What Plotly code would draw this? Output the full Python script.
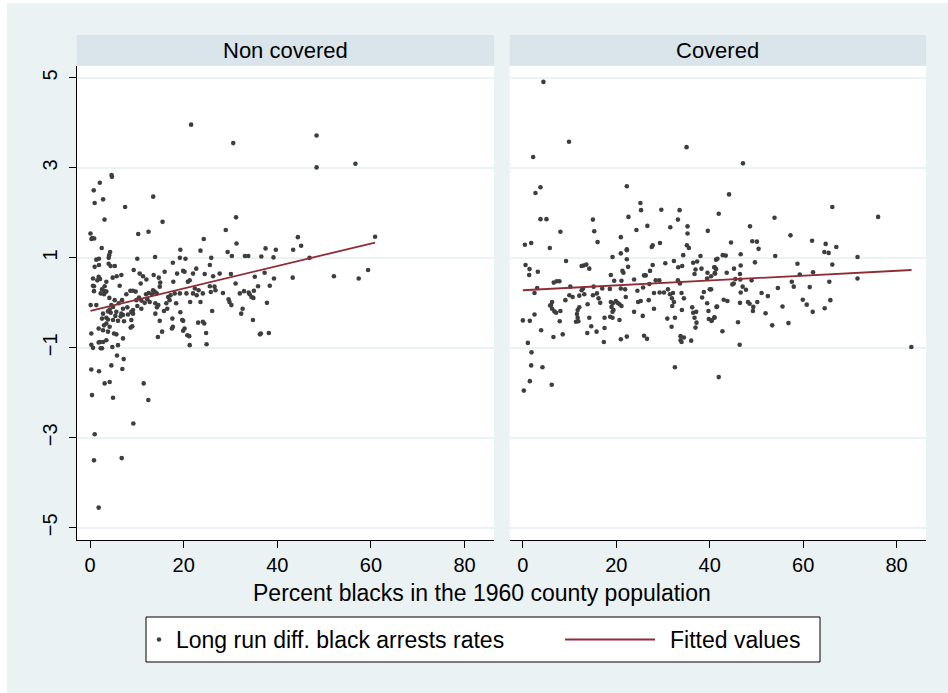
import plotly.graph_objects as go

# ---- Non covered counties: percent black 1960 (x) vs long run diff. in black arrest rates (y)
nc_x = [21.6, 30.6, 4.6, 4.7, 2.1, 0.8, 2.8, 13.5, 1.0, 7.5, 3.1, 31.2, 15.5, 29.0, 0.1, 10.3, 12.5,
        0.5, 0.9, 0.3, 24.3, 31.3, 2.5, 4.3, 4.1, 4.0, 19.3, 23.6, 29.4, 30.3, 37.5, 39.7, 33.1, 33.8,
        36.6, 39.2, 13.9, 19.2, 20.4, 25.9, 10.1, 1.9, 1.35,
        48.4, 48.4, 56.7, 44.4, 43.4, 45.1, 46.9, 60.9, 43.3, 52.1, 57.4, 59.4,
        1.92, 1.0, 4.4, 5.3, 3.99, 0.64, 1.85, 2.14, 1.57, 4.84, 5.7, 6.7, 3.49, 3.13, 0.64, 0.85, 6.34,
        0.85, 2.56, 3.13, 2.28, 2.99, 3.49, 4.13, 0.14, 1.35, 5.27, 6.13, 6.84, 7.76, 8.62, 9.19, 9.76,
        7.05, 6.7, 5.63, 5.41, 4.42, 4.2, 3.85, 4.92, 4.56, 2.78, 3.49, 2.56, 3.85, 4.92, 5.98, 7.27,
        7.05, 6.55, 3.49, 2.99, 4.2, 1.85, 2.78, 3.85, 5.13, 5.63, 0.28, 2.07, 1.85, 2.78, 3.49, 0.28,
        0.64, 2.28, 2.56, 4.77, 5.98, 7.05, 7.98, 8.83, 8.12, 9.19, 8.83, 8.69, 9.04, 9.19, 10.11, 10.97,
        9.9, 10.47, 10.97, 11.68, 12.25, 12.75, 11.97, 12.55, 13.25, 13.82, 13.46, 14.25, 9.33, 10.83,
        10.61, 12.04, 11.33, 13.6, 14.7, 15.0, 15.95, 14.9, 13.96, 14.6, 14.3, 13.96, 14.9, 15.8, 15.4,
        14.5, 17.7, 16.3, 17.0, 16.7, 17.2, 18.1, 16.5, 17.8, 18.6, 19.9, 20.2, 17.6, 17.5, 17.7, 19.3,
        19.7, 20.2, 19.9, 21.2, 18.4, 19.2, 20.6, 20.9, 21.3, 21.4, 22.0, 22.0, 22.4, 22.8, 23.2, 23.6,
        24.1, 24.5, 22.7, 23.1, 24.1, 24.4, 24.9, 24.8, 25.6, 25.6, 25.8, 26.1, 26.6, 26.3, 26.8, 27.7,
        28.4, 21.3, 19.9, 20.8, 29.6, 29.8, 30.2, 30.1, 31.1, 32.0, 32.3, 32.6, 32.9, 33.9, 34.1, 34.5,
        35.0, 34.9, 34.8, 35.2, 35.9, 36.3, 36.5, 37.3, 37.8, 38.2, 38.4, 39.3,
        5.77, 7.19, 0.28, 1.92, 4.56, 6.91, 3.13, 4.2, 11.47, 0.43, 4.92, 12.46,
        9.26, 1.0, 0.85, 6.77, 1.85]
nc_y = [3.96, 3.55, 2.84, 2.80, 2.67, 2.50, 2.30, 2.36, 2.22, 2.13, 1.85, 1.90, 1.80, 1.62, 1.54, 1.53, 1.58,
        1.44, 1.43, 1.42, 1.42, 1.32, 1.22, 1.13, 1.06, 1.00, 1.18, 1.16, 1.13, 1.04, 1.21, 1.18, 1.04, 1.04,
        1.03, 1.01, 1.02, 1.00, 0.98, 1.00, 0.98, 0.98, 0.96,
        3.72, 3.01, 3.09, 1.46, 1.18, 1.27, 1.00, 1.47, 0.56, 0.59, 0.54, 0.73,
        0.84, 0.80, 0.82, 0.82, 0.87, 0.54, 0.58, 0.53, 0.50, 0.56, 0.59, 0.62, 0.47, 0.37, 0.38, 0.37, 0.38,
        0.26, 0.30, 0.26, 0.21, 0.19, 0.25, 0.11, -0.05, -0.05, 0.06, -0.01, 0.06, 0.19, 0.27, 0.27, 0.25,
        -0.13, -0.24, -0.20, -0.29, -0.22, -0.15, -0.19, -0.09, -0.05, -0.24, -0.33, -0.35, -0.37, -0.38, -0.40, -0.41,
        -0.27, -0.30, -0.46, -0.50, -0.53, -0.57, -0.61, -0.64, -0.68, -0.70, -0.68, -0.87, -0.88, -0.87, -0.83, -0.93,
        -1.00, -1.01, -1.01, -0.98, -0.94, -0.79, -0.10, -0.20, -0.26, -0.24, -0.38, -0.55, -0.52, -0.16, -0.07, -0.13,
        0.06, 0.12, 0.05, 0.00, 0.08, 0.02, 0.19, 0.22, 0.19, 0.25, 0.28, 0.21, 0.73, 0.43,
        0.65, 0.52, 0.59, 0.62, 0.56, 0.45, 0.69, 0.36, -0.01, -0.05, -0.10, -0.24, -0.40, -0.18, -0.64,
        -0.76, 0.89, -0.01, 0.06, 0.13, 0.17, 0.21, -0.13, 0.47, 0.65, 0.71, 0.69, -0.35, -0.57, -0.53, -0.21,
        -0.38, -0.57, -0.62, -0.74, -0.01, 0.21, 0.21, 0.47, 0.50, 0.02, 0.65, 0.21, 0.32, 0.17, 0.28, 0.02,
        0.21, 0.64, 0.76, -0.44, -0.42, -0.46, -0.92, -0.67, 0.84, 0.37, 0.24, -0.18, 0.36, 0.59, 0.28, 0.65,
        0.22, -0.94, -0.40, -0.72, 0.08, 0.02, -0.05, 0.64, 0.43, 0.21, -0.24, -0.13, 0.26, 0.23, 0.19, 0.13,
        0.27, 0.11, -0.38, 0.58, 0.37, -0.70, -0.68, 0.67, 0.00, -0.67, 0.38, 0.54,
        -1.17, -1.25, -1.48, -1.52, -1.39, -1.47, -1.79, -1.76, -1.79, -2.05, -2.11, -2.16,
        -2.68, -2.92, -3.50, -3.45, -4.55]

# ---- Covered counties
cv_x = [4.40, 9.88, 2.20, 35.04, 3.77, 2.70, 22.25, 25.16, 25.30, 29.64, 33.55, 33.19, 3.77, 5.05, 14.99,
        22.6, 26.65, 31.56, 35.25, 39.59, 8.03, 15.28, 24.31, 35.25, 20.97, 0.43, 1.78, 5.76, 15.99, 27.79,
        27.58, 29.35, 35.11, 35.54, 22.25,
        0.57, 1.42, 1.35, 3.20, 9.24, 12.58, 13.01, 13.58, 14.22, 19.19, 20.97, 22.25, 22.25, 22.53,
        21.32, 21.53, 18.83, 19.55, 21.11, 23.81, 25.94, 26.3, 27.22, 27.79, 30.49, 32.34, 33.26, 34.11, 34.33,
        36.46, 36.96, 37.31, 38.02, 36.75, 38.24, 39.52, 39.45, 40.3, 41.01, 41.15, 41.36,
        6.61, 7.25, 7.82, 10.16, 3.06, 2.49, 15.14, 16.99, 18.62, 20.97, 21.89, 12.58, 12.87,
        15.85, 16.2, 16.56, 15.0, 13.15, 12.08, 10.66, 9.95, 9.10, 6.25, 6.04, 5.83, 6.25, 6.75, 7.11, 8.03,
        13.86, 12.08, 11.73, 11.58, 14.22, 11.73, 11.37, 11.87, 18.83, 19.26, 18.98, 19.4, 19.19, 19.9, 20.26,
        20.68, 21.11, 22.03, 17.48, 18.69, 19.19, 20.68, 24.66, 25.23, 23.81, 25.66, 24.52, 25.73, 27.08, 28.07,
        29.21, 28.43, 29.28, 30.21, 31.06, 31.49, 32.13, 31.91, 32.34, 31.98, 26.94, 28.07, 30.92, 31.84, 32.55,
        33.19, 33.62, 33.97, 34.47, 34.04, 36.25, 37.1, 37.17, 36.75, 36.96, 36.46, 38.38, 39.45, 39.73, 39.8,
        40.37, 41.01, 41.44, 40.01, 38.74, 33.76, 34.47, 33.76, 33.97, 36.03, 0.0, 1.49, 2.49, 3.91, 6.54,
        8.53, 7.89, 13.79, 15.78, 14.64, 17.48, 17.34, 20.97, 22.25, 25.94, 26.58, 1.07, 1.85, 1.78, 4.19,
        1.49, 0.21, 6.18, 32.55,
        47.12, 44.14, 41.93, 66.24, 76.05, 53.87, 48.62, 57.29, 44.56, 49.11, 50.11, 61.91, 64.82, 67.1, 50.46,
        42.79, 43.43, 41.65, 46.63, 54.02, 64.54, 65.46, 71.64, 49.68, 58.78, 66.24, 46.63, 41.01, 41.37,
        41.08, 43.64, 45.2, 46.48, 46.55, 45.49, 45.14, 44.85, 48.97, 59.28, 62.12, 71.64, 57.57, 57.99,
        65.6, 61.41, 54.59, 47.05, 47.76, 46.63, 51.1, 52.45, 40.3, 43.0, 43.78, 46.48, 48.19, 48.54, 49.33,
        49.25, 50.18, 51.96, 41.58, 41.01, 40.44, 46.06, 42.72, 46.41, 55.58, 53.38, 56.86, 59.92, 60.77,
        62.05, 64.61, 65.82, 41.93, 83.16]
cv_y = [4.91, 3.58, 3.24, 3.46, 2.57, 2.44, 2.59, 2.22, 2.06, 2.07, 2.06, 1.85, 1.86, 1.86, 1.85,
        1.91, 1.71, 1.68, 1.70, 1.60, 1.58, 1.59, 1.62, 1.54, 1.46, 1.29, 1.33, 1.22, 1.35, 1.28,
        1.24, 1.33, 1.28, 1.22, 1.19,
        0.84, 0.75, 0.62, 0.69, 0.93, 0.82, 0.83, 0.85, 0.76, 1.02, 1.10, 1.17, 0.97, 0.80,
        0.71, 0.67, 0.62, 0.49, 0.49, 0.52, 0.61, 0.61, 0.71, 0.84, 0.88, 0.93, 0.79, 0.82, 1.06,
        0.89, 0.74, 0.92, 1.04, 0.64, 0.76, 0.67, 0.54, 0.59, 0.79, 0.65, 0.96,
        0.45, 0.48, 0.48, 0.36, 0.33, 0.22, 0.36, 0.32, 0.31, 0.32, 0.30, 0.28, 0.32,
        0.21, 0.10, 0.00, 0.17, 0.19, 0.16, 0.13, 0.17, 0.06, 0.02, -0.05, -0.06, -0.13, -0.19, -0.22, -0.18,
        -0.03, -0.10, -0.16, -0.25, -0.33, -0.33, -0.42, -0.41, 0.02, -0.01, -0.09, -0.16, -0.20, 0.04, 0.00,
        -0.03, -0.07, 0.13, -0.33, -0.31, -0.33, -0.38, 0.02, 0.04, -0.20, -0.29, 0.27, 0.34, 0.42, 0.22,
        0.50, 0.50, 0.23, 0.23, 0.30, 0.19, 0.22, 0.10, 0.02, -0.07, 0.06, -0.13, -0.35, -0.53, -0.33,
        0.50, 0.43, 0.22, 0.10, -0.16, -0.10, -0.20, -0.44, -0.33, -0.55, -0.22, 0.12, -0.01, -0.18, -0.36,
        -0.40, -0.33, -0.09, 0.30, 0.24, -0.74, -0.77, -0.83, -0.87, -0.84, -0.39, -0.40, -0.26, -0.61, -0.76,
        -0.70, -0.41, -0.67, -0.64, -0.52, -0.56, -0.87, -0.81, -0.75, -0.73, -0.80, -0.89, -1.10, -1.39, -1.43,
        -1.74, -1.95, -1.82, -1.43,
        3.10, 2.41, 1.98, 2.13, 1.91, 1.89, 1.70, 1.50, 1.34, 1.37, 1.36, 1.38, 1.31, 1.24, 1.20,
        1.06, 1.05, 0.98, 1.08, 1.04, 1.13, 1.11, 1.02, 0.90, 0.87, 0.85, 0.83, 0.79, 0.75,
        0.66, 0.67, 0.76, 0.64, 0.52, 0.53, 0.43, 0.41, 0.50, 0.63, 0.68, 0.54, 0.47, 0.36,
        0.47, 0.35, 0.33, 0.36, 0.29, 0.23, 0.22, 0.15, 0.30, 0.07, 0.04, 0.00, 0.02, -0.02, -0.09,
        -0.18, 0.02, -0.23, -0.08, -0.32, -0.39, -0.43, -0.63, -0.93, -0.08, -0.50, -0.45, 0.07, -0.04,
        -0.20, -0.12, 0.06, -1.65, -0.98]

# ---- Fitted values (linear fit endpoints per panel)
fit_nc_x = [0.1, 60.9]
fit_nc_y = [-0.18, 1.34]
fit_cv_x = [0.0, 83.2]
fit_cv_y = [0.28, 0.73]

panel_titles = ["Non covered", "Covered"]
x_ticks = [0, 20, 40, 60, 80]
y_ticks = [-5, -3, -1, 1, 3, 5]
legend_labels = ["Long run diff. black arrests rates", "Fitted values"]

W, H = 948, 693
BG = "#EAF2F3"
STRIP = "#D9E5EA"
DOT = "#3E3E3E"
FIT = "#8F2D36"
FONT = "Liberation Sans, Arial, sans-serif"


def fx(p):
    return p / W


def fy(p):
    return 1 - p / H


left_dom = [fx(76.8), fx(494)]
right_dom = [fx(509.7), fx(926)]
y_dom = [fy(540), fy(65.7)]

fig = go.Figure()
fig.add_trace(go.Scatter(x=nc_x, y=nc_y, mode="markers", name=legend_labels[0],
                         marker=dict(size=4.6, color=DOT), xaxis="x", yaxis="y"))
fig.add_trace(go.Scatter(x=fit_nc_x, y=fit_nc_y, mode="lines", name=legend_labels[1],
                         line=dict(color=FIT, width=1.8), xaxis="x", yaxis="y"))
fig.add_trace(go.Scatter(x=cv_x, y=cv_y, mode="markers", name=legend_labels[0],
                         marker=dict(size=4.6, color=DOT), xaxis="x2", yaxis="y2"))
fig.add_trace(go.Scatter(x=fit_cv_x, y=fit_cv_y, mode="lines", name=legend_labels[1],
                         line=dict(color=FIT, width=1.8), xaxis="x2", yaxis="y2"))

xcommon = dict(range=[-2.82, 86.3], tickvals=x_ticks, ticks="outside", ticklen=7, tickwidth=1,
               tickcolor="black", showline=True, linecolor="black", linewidth=1, showgrid=False,
               zeroline=False, tickfont=dict(size=20, color="black", family=FONT))
ycommon = dict(range=[-5.27, 5.27], tickvals=y_ticks, showgrid=True, gridcolor=BG, gridwidth=1.5,
               zeroline=False, domain=y_dom)

fig.update_layout(
    width=W, height=H, margin=dict(l=0, r=0, t=0, b=0),
    paper_bgcolor=BG, plot_bgcolor="white",
    font=dict(family=FONT, color="black"),
    xaxis=dict(domain=left_dom, anchor="y", **xcommon),
    xaxis2=dict(domain=right_dom, anchor="y2", **xcommon),
    yaxis=dict(anchor="x", ticks="outside", ticklen=7, tickcolor="black", showline=True,
               linecolor="black", linewidth=1, tickangle=-90, ticklabelstandoff=4,
               tickfont=dict(size=20, color="black", family=FONT), **ycommon),
    yaxis2=dict(anchor="x2", showticklabels=False, ticks="", showline=False, **ycommon),
    showlegend=False,
)

# Legend box drawn as a framed key below the axis title
leg_top, leg_bot = 617, 662
leg_mid = (leg_top + leg_bot) / 2
shapes = [
    dict(type="rect", xref="paper", yref="paper", x0=0, x1=fx(7), y0=0, y1=1,
         fillcolor="white", line=dict(width=0), layer="below"),
    dict(type="rect", xref="paper", yref="paper", x0=0, x1=1, y0=fy(3), y1=1,
         fillcolor="white", line=dict(width=0), layer="below"),
    dict(type="rect", xref="paper", yref="paper", x0=fx(146), x1=fx(820), y0=fy(leg_bot),
         y1=fy(leg_top), fillcolor="white", line=dict(color="black", width=1)),
    dict(type="circle", xref="paper", yref="paper", x0=fx(156.8), x1=fx(161.2),
         y0=fy(leg_mid + 2.2), y1=fy(leg_mid - 2.2), fillcolor=DOT, line=dict(width=0)),
    dict(type="line", xref="paper", yref="paper", x0=fx(565), x1=fx(655), y0=fy(leg_mid),
         y1=fy(leg_mid), line=dict(color=FIT, width=1.8)),
]
for dom in (left_dom, right_dom):
    shapes.append(dict(type="rect", xref="paper", yref="paper", x0=dom[0], x1=dom[1],
                       y0=fy(65.7), y1=fy(35), fillcolor=STRIP, line=dict(width=0), layer="below"))
fig.update_layout(shapes=shapes)

annotations = []
for dom, title in zip((left_dom, right_dom), panel_titles):
    annotations.append(dict(text=title, xref="paper", yref="paper", x=(dom[0] + dom[1]) / 2,
                            y=fy(50.5), xanchor="center", yanchor="middle", showarrow=False,
                            font=dict(size=22, family=FONT, color="black")))
annotations.append(dict(text="Percent blacks in the 1960 county population", xref="paper",
                        yref="paper", x=fx(482), y=fy(593), xanchor="center", yanchor="middle",
                        showarrow=False, font=dict(size=23, family=FONT, color="black")))
annotations.append(dict(text=legend_labels[0], xref="paper", yref="paper", x=fx(174),
                        y=fy(leg_mid), xanchor="left", yanchor="middle", showarrow=False,
                        font=dict(size=23, family=FONT, color="black")))
annotations.append(dict(text=legend_labels[1], xref="paper", yref="paper", x=fx(668),
                        y=fy(leg_mid), xanchor="left", yanchor="middle", showarrow=False,
                        font=dict(size=23, family=FONT, color="black")))
fig.update_layout(annotations=annotations)

fig.write_html("out.html")
